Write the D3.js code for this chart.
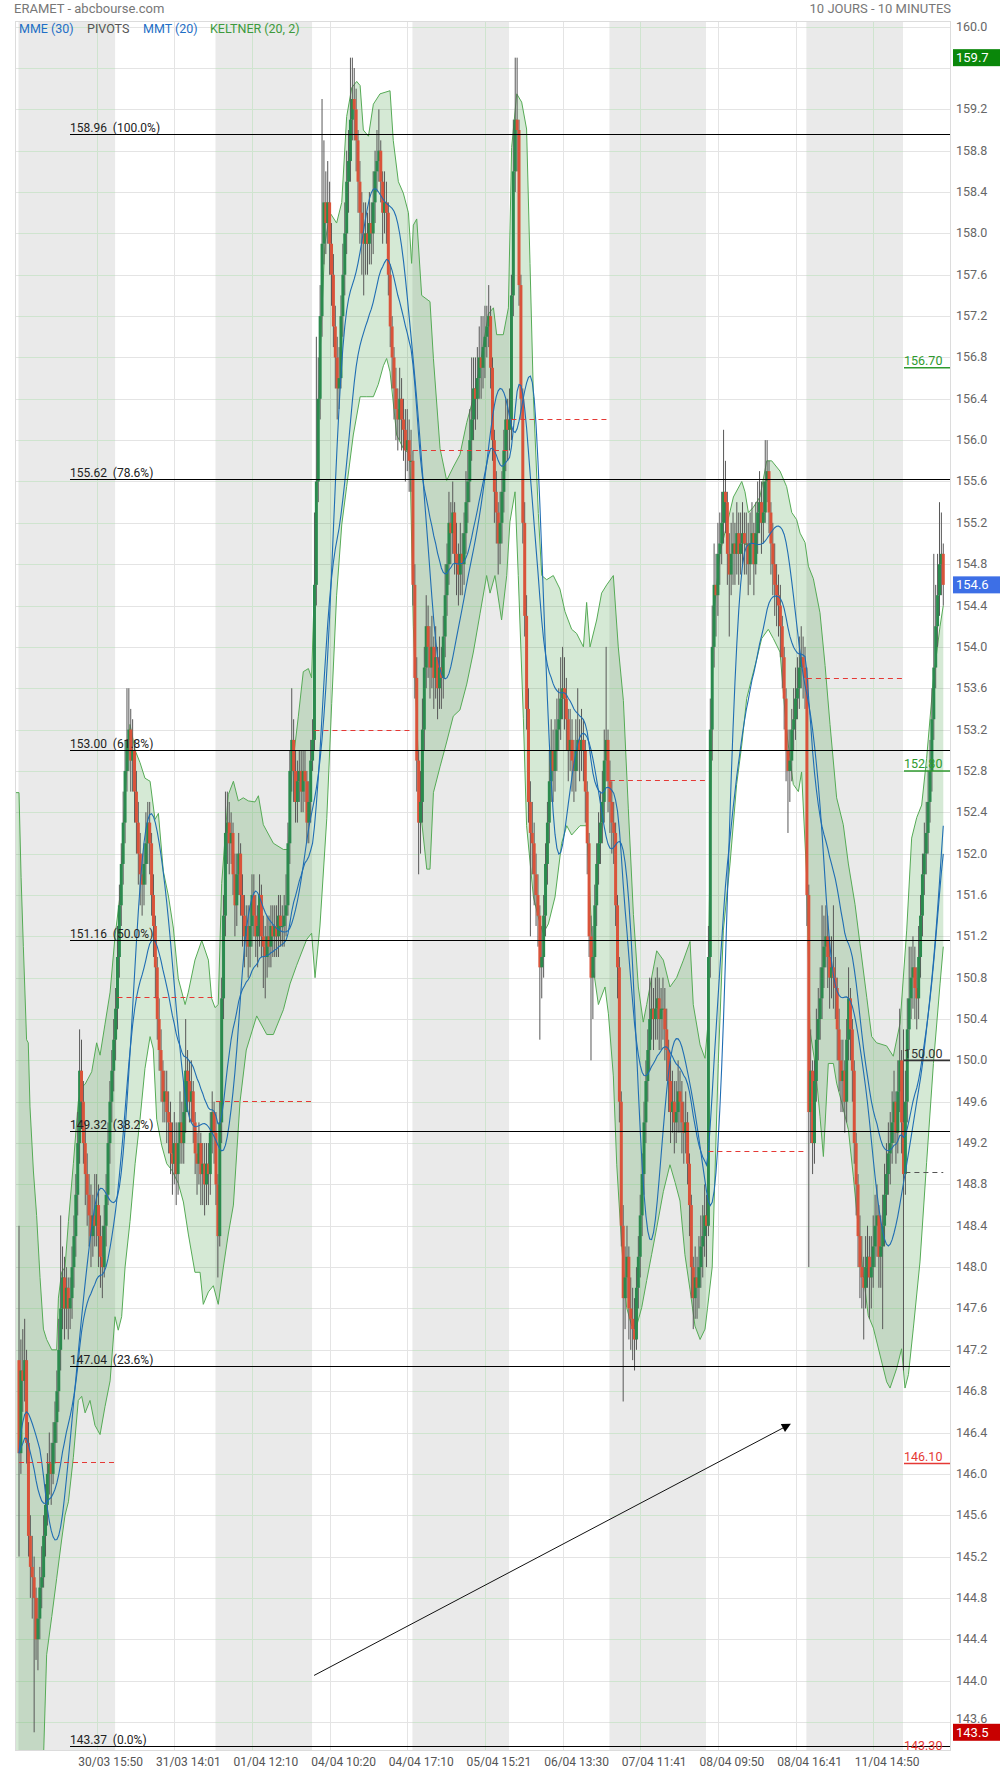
<!DOCTYPE html>
<html><head><meta charset="utf-8">
<script src="https://cdn.jsdelivr.net/npm/d3@7"></script>
<style>
body{margin:0;background:#fff}
svg{display:block}
text{font-family:Roboto,"Liberation Sans",Arial,sans-serif}
</style>
</head><body>
<svg id="c" width="1000" height="1774"></svg>
<script>
// ---------- DATA (10-minute bars, 30/03 09:00 -> 12/04 12:20) ----------
const dayStarts = [0,52,104,156,208,260,312,364,416,468];
const dayNames = ["30/03","31/03","01/04","04/04","05/04","06/04","07/04","08/04","11/04","12/04"];

const opens = [
// 30/03
147.1,146.2,147.0,146.9,147.1,146.3,145.4,145.1,145.0,144.8,144.4,144.6,144.9,145.0,145.4,145.7,146.0,146.1,146.0,146.3,
146.5,146.8,147.2,147.6,147.9,147.6,147.8,147.6,147.7,148.0,148.3,148.7,149.2,149.9,149.6,149.2,148.9,148.7,148.5,148.3,
148.5,148.4,148.6,148.3,148.1,148.0,148.4,148.7,149.2,149.6,149.9,150.2,
// 31/03
150.5,151.0,151.5,151.9,152.3,152.8,153.1,153.2,152.9,153.0,152.6,152.3,152.0,151.8,151.7,151.9,152.1,152.3,152.1,151.6,
151.3,150.9,150.4,150.1,149.9,149.6,149.7,149.5,149.4,149.1,149.0,149.2,148.9,149.2,149.4,149.2,149.5,149.9,149.8,149.6,
149.7,149.4,149.1,149.0,149.2,148.9,149.0,148.8,149.0,148.9,149.3,149.5,
// 01/04
149.3,148.8,148.3,149.4,150.6,151.4,152.2,152.3,152.1,152.2,151.8,151.5,151.8,152.0,151.6,151.4,151.2,151.3,151.1,151.3,
151.6,151.4,151.2,151.3,151.6,151.2,151.1,151.0,151.2,151.1,151.3,151.2,151.3,151.2,151.4,151.3,151.3,151.4,151.5,152.1,
152.8,153.1,152.8,152.5,152.7,152.8,152.6,152.8,152.7,152.3,152.5,152.9,
// 04/04
153.1,154.6,155.6,156.4,157.2,157.9,158.3,158.1,158.3,157.9,157.6,157.1,156.8,156.5,156.6,157.2,157.6,158.0,158.5,158.7,
159.1,159.3,159.2,158.9,158.5,158.2,158.0,157.9,158.0,157.9,158.1,158.0,158.3,158.6,158.7,158.8,158.5,158.2,158.3,158.2,
157.6,157.1,156.8,156.5,156.3,156.2,156.4,156.2,156.1,155.9,156.0,155.8,
// 05/04
155.8,154.6,153.7,152.9,152.3,152.5,153.2,153.8,154.2,154.0,153.8,154.0,153.7,153.9,153.6,153.8,153.7,154.1,154.5,154.8,
155.2,155.1,155.3,154.9,154.8,154.7,154.9,154.8,155.1,155.4,155.6,156.0,156.2,156.5,156.4,156.6,156.8,156.7,156.9,157.0,
157.1,157.2,156.7,156.0,155.5,155.3,155.0,155.2,155.5,155.9,156.2,156.1,
// 06/04
156.2,157.4,158.6,159.1,159.0,157.5,156.4,155.2,154.3,153.4,152.5,152.2,152.1,151.8,151.6,151.4,150.9,151.0,151.4,151.9,
152.3,152.7,153.0,152.8,153.0,153.2,153.3,153.5,153.6,153.5,153.3,153.0,153.1,152.9,152.8,153.0,153.1,153.0,153.1,153.0,
152.6,152.1,151.2,150.8,151.0,151.5,151.9,152.1,152.3,152.5,152.9,153.1,
// 07/04
152.7,152.5,152.3,152.2,151.5,150.9,149.6,148.4,147.7,147.9,148.1,147.6,147.5,147.4,147.3,147.8,148.1,148.5,148.9,149.4,
149.8,150.1,150.4,150.5,150.4,150.5,150.6,150.4,150.5,150.5,150.3,150.1,149.8,149.5,149.6,149.4,149.5,149.7,149.6,149.4,
149.3,149.4,149.0,148.6,148.0,147.7,147.9,147.8,148.0,148.2,148.3,148.5,
// 08/04
148.4,151.0,153.2,154.0,154.6,154.5,154.9,155.0,155.2,155.5,155.4,154.9,154.7,154.9,155.0,154.9,155.1,154.9,155.0,155.1,
155.0,155.0,154.8,155.0,155.1,154.8,155.1,155.3,155.4,155.2,155.3,155.6,155.7,155.3,155.0,154.8,154.6,154.5,154.4,154.2,
153.9,153.5,153.0,152.8,152.9,153.2,153.3,153.5,153.6,153.8,153.9,153.8,
// 11/04
153.7,151.6,149.5,149.9,149.2,149.8,150.2,150.4,150.6,150.9,151.1,151.2,151.0,150.8,150.9,150.8,150.7,150.3,150.0,149.8,
149.9,149.6,150.2,150.6,150.3,149.9,149.2,148.8,148.3,148.0,147.9,147.8,148.0,148.1,147.9,148.0,148.2,148.4,148.5,148.1,
148.2,148.4,148.7,148.9,149.1,149.2,149.4,149.6,149.3,149.7,150.0,149.4,
// 12/04
148.9,149.6,150.3,150.6,150.8,150.9,150.7,150.6,151.0,151.4,151.8,152.0,152.2,152.5,152.8,153.3,153.8,154.2,154.5,154.8,
154.9
];

const highs = [
// 30/03
148.4,147.3,147.4,147.5,147.2,146.5,145.6,145.4,145.2,144.9,144.8,145.1,145.3,145.6,145.9,146.2,146.4,146.3,146.5,146.7,
147.0,147.5,148.5,148.2,148.1,148.0,147.9,147.9,148.2,148.5,148.9,149.5,150.3,150.2,149.8,149.4,149.1,148.9,148.8,148.7,
148.9,148.9,148.8,148.5,148.4,148.6,148.9,149.4,149.8,150.1,150.4,150.7,
// 31/03
151.3,151.7,152.1,152.6,153.1,153.6,153.6,153.4,153.3,153.1,152.8,152.5,152.2,152.0,152.1,152.4,152.5,152.5,152.2,151.8,
151.4,151.0,150.6,150.3,150.0,149.9,149.9,149.7,149.6,149.4,149.5,149.4,149.4,149.7,149.6,149.8,150.4,150.1,150.0,150.0,
149.8,149.5,149.3,149.4,149.3,149.2,149.2,149.2,149.2,149.5,149.7,149.6,
// 01/04
149.5,148.9,149.6,150.8,151.6,152.6,152.6,152.5,152.4,152.3,152.0,152.0,152.2,152.1,151.8,151.6,151.5,151.5,151.5,151.8,
151.8,151.6,151.5,151.8,151.7,151.4,151.3,151.4,151.4,151.5,151.5,151.5,151.5,151.6,151.6,151.5,151.6,151.8,152.3,153.0,
153.6,153.3,153.0,152.9,153.0,153.0,153.0,153.0,152.8,152.7,153.1,153.3,
// 04/04
155.3,157.0,156.8,157.5,159.3,158.9,158.6,158.7,158.5,158.1,157.8,157.3,157.0,156.9,157.4,157.9,158.3,158.8,159.0,159.7,
159.7,159.6,159.4,159.0,158.7,158.4,158.3,158.3,158.2,158.4,158.3,158.6,158.8,159.0,159.2,158.9,158.6,158.6,158.5,158.3,
157.7,157.2,156.9,156.7,156.5,156.7,156.6,156.4,156.3,156.3,156.2,156.1,
// 05/04
155.9,154.8,153.9,153.0,152.8,153.5,154.0,154.5,154.4,154.2,154.3,154.1,154.2,154.0,154.1,154.0,154.3,154.8,155.0,155.5,
155.4,155.6,155.4,155.2,155.0,155.2,155.1,155.3,155.7,155.9,156.3,156.8,156.8,156.8,156.9,157.1,157.2,157.2,157.3,157.3,
157.5,157.3,156.8,156.1,155.7,155.4,155.5,155.7,156.1,156.4,156.4,156.5,
// 06/04
157.6,159.1,159.7,159.7,159.1,157.6,156.5,155.4,154.5,153.6,152.7,152.5,152.3,152.0,151.8,151.5,151.3,151.6,152.1,152.5,
153.0,153.3,153.2,153.3,153.5,153.6,153.9,154.0,153.9,153.7,153.4,153.4,153.3,153.1,153.3,153.6,153.3,153.4,153.3,153.1,
152.7,152.2,151.4,151.3,151.7,152.1,152.4,152.6,152.8,153.2,154.0,153.2,
// 07/04
152.9,152.7,152.5,152.3,151.6,151.0,149.7,148.6,148.2,148.4,148.2,147.9,147.8,147.7,148.0,148.3,148.7,149.1,149.6,150.0,
150.3,150.8,150.8,150.7,150.8,150.9,150.8,150.7,150.8,150.7,150.5,150.2,150.0,149.9,149.8,149.8,150.0,149.9,149.8,149.6,
149.7,149.5,149.1,148.7,148.1,148.2,148.1,148.3,148.5,148.6,148.8,148.7,
// 08/04
151.3,153.5,154.4,155.0,154.9,155.2,155.3,155.5,156.1,155.8,155.5,155.1,155.2,155.3,155.2,155.4,155.3,155.3,155.4,155.3,
155.3,155.2,155.3,155.4,155.2,155.4,155.6,155.7,155.6,155.6,156.0,156.0,155.8,155.4,155.2,155.0,154.8,154.7,154.6,154.3,
154.0,153.6,153.2,153.2,153.4,153.6,153.8,153.9,154.1,154.2,154.1,154.0,
// 11/04
153.8,151.7,150.3,150.0,150.0,150.5,150.7,150.9,151.5,151.4,151.5,151.4,151.2,151.2,151.5,151.0,150.8,150.5,150.2,150.2,
150.0,150.4,150.9,150.7,150.4,150.0,149.3,148.9,148.5,148.3,148.1,148.3,148.4,148.3,148.3,148.5,148.7,148.8,148.6,148.5,
148.7,149.0,149.2,149.4,149.5,149.7,149.9,149.7,150.0,150.5,150.1,150.3,
// 12/04
149.9,150.6,151.1,151.1,151.2,151.1,150.9,151.3,151.6,152.0,152.3,152.5,152.8,153.1,153.6,154.9,154.6,154.9,155.4,155.3,
155.0
];

const lows = [
// 30/03
145.2,146.0,146.6,146.7,146.1,145.2,144.8,144.6,143.5,144.2,144.1,144.4,144.7,144.9,145.2,145.5,145.8,145.7,145.9,146.1,
146.3,146.6,147.0,147.4,147.3,147.4,147.3,147.4,147.5,147.8,148.1,148.5,149.0,149.4,149.0,148.6,148.4,148.2,148.0,148.1,
148.2,148.2,148.0,147.8,147.7,147.9,148.2,148.6,149.0,149.4,149.7,150.0,
// 31/03
150.3,150.8,151.3,151.7,152.1,152.6,152.8,152.6,152.6,152.3,152.0,151.7,151.5,151.4,151.5,151.7,151.9,151.8,151.4,151.0,
150.6,150.2,149.9,149.6,149.4,149.4,149.2,149.1,148.9,148.7,148.8,148.6,148.7,149.0,149.0,149.0,149.3,149.5,149.4,149.4,
149.2,148.9,148.7,148.8,148.6,148.6,148.5,148.6,148.6,148.7,149.1,149.0,
// 01/04
148.6,147.9,148.2,149.2,150.4,151.2,151.9,151.8,151.9,151.6,151.2,151.3,151.6,151.4,151.1,150.9,151.0,150.8,150.9,151.1,
151.2,151.0,150.9,151.1,151.0,150.7,150.6,150.8,150.9,150.9,151.0,151.0,151.0,151.0,151.1,151.1,151.1,151.2,151.4,151.9,
152.6,152.5,152.3,152.3,152.5,152.4,152.4,152.5,152.1,152.1,152.3,152.8,
// 04/04
153.0,154.4,155.4,156.2,157.0,157.7,157.8,157.9,157.6,157.3,156.9,156.5,156.2,156.3,156.5,157.0,157.4,157.8,158.2,158.5,
158.9,158.9,158.6,158.2,157.9,157.6,157.4,157.6,157.6,157.7,157.7,157.8,158.1,158.4,158.5,158.3,157.9,158.0,157.9,157.4,
156.9,156.5,156.2,156.0,155.9,156.0,155.9,155.8,155.6,155.7,155.5,155.5,
// 05/04
154.4,153.5,152.6,151.8,152.0,152.3,153.0,153.6,153.7,153.5,153.6,153.4,153.5,153.3,153.4,153.4,153.5,153.9,154.3,154.6,
154.8,154.9,154.7,154.5,154.4,154.5,154.5,154.6,154.9,155.2,155.4,155.8,156.0,156.1,156.2,156.4,156.4,156.5,156.6,156.8,
156.9,156.5,155.8,155.2,155.0,154.7,154.8,155.0,155.3,155.7,155.8,155.9,
// 06/04
156.0,157.2,158.4,158.6,157.3,156.2,155.0,154.1,153.2,152.3,151.2,151.8,151.5,151.3,151.1,150.2,150.6,150.8,151.2,151.7,
152.1,152.5,152.5,152.6,152.8,153.0,153.1,153.3,153.2,153.0,152.7,152.8,152.6,152.5,152.6,152.8,152.7,152.8,152.7,152.3,
151.8,151.0,150.0,150.4,150.8,151.3,151.7,151.9,152.1,152.3,152.7,152.4,
// 07/04
152.2,152.0,151.9,151.3,150.6,149.4,148.2,146.7,147.4,147.7,147.3,147.2,147.1,147.0,147.2,147.6,147.9,148.3,148.7,149.2,
149.6,149.9,150.2,150.1,150.2,150.2,150.1,150.1,150.2,150.0,149.8,149.5,149.2,149.3,149.1,149.2,149.3,149.3,149.1,149.0,
149.1,148.8,148.3,147.7,147.4,147.5,147.5,147.6,147.8,147.9,148.1,148.0,
// 08/04
148.3,150.8,152.9,153.8,154.1,154.3,154.6,154.8,155.0,155.1,154.6,154.1,154.5,154.6,154.6,154.7,154.6,154.7,154.8,154.7,
154.7,154.5,154.6,154.8,154.5,154.7,154.9,155.1,154.9,155.0,155.2,155.4,155.1,154.7,154.5,154.3,154.2,154.1,153.9,153.6,
153.2,152.7,152.2,152.5,152.7,153.0,153.1,153.3,153.4,153.6,153.5,153.4,
// 11/04
151.3,148.0,149.2,148.9,149.0,149.6,150.0,150.2,150.4,150.7,150.9,150.7,150.5,150.6,150.5,150.4,150.0,149.7,149.5,149.5,
149.3,149.4,150.0,150.0,149.6,149.0,148.5,148.0,147.7,147.6,147.3,147.6,147.8,147.5,147.6,147.8,148.0,148.1,147.8,147.8,
147.4,148.2,148.5,148.7,148.8,149.0,149.2,149.0,149.1,149.5,149.1,147.0,
// 12/04
148.7,149.4,150.1,150.4,150.5,150.4,150.3,150.4,150.8,151.2,151.6,151.8,152.0,152.3,152.6,153.1,153.6,154.0,154.3,154.5,
154.4
];

const closes = [
// 30/03
146.2,147.0,146.9,147.1,146.3,145.4,145.1,145.0,144.8,144.4,144.6,144.9,145.0,145.4,145.7,146.0,146.1,146.0,146.3,146.5,
146.8,147.2,147.6,147.9,147.6,147.8,147.6,147.7,148.0,148.3,148.7,149.2,149.9,149.6,149.2,148.9,148.7,148.5,148.3,148.5,
148.4,148.6,148.3,148.1,148.0,148.4,148.7,149.2,149.6,149.9,150.2,150.5,
// 31/03
151.0,151.5,151.9,152.3,152.8,153.1,153.2,152.9,153.0,152.6,152.3,152.0,151.8,151.7,151.9,152.1,152.3,152.1,151.6,151.3,
150.9,150.4,150.1,149.9,149.6,149.7,149.5,149.4,149.1,149.0,149.2,148.9,149.2,149.4,149.2,149.5,149.9,149.8,149.6,149.7,
149.4,149.1,149.0,149.2,148.9,149.0,148.8,149.0,148.9,149.3,149.5,149.3,
// 01/04
148.8,148.3,149.4,150.6,151.4,152.2,152.3,152.1,152.2,151.8,151.5,151.8,152.0,151.6,151.4,151.2,151.3,151.1,151.3,151.6,
151.4,151.2,151.3,151.6,151.2,151.1,151.0,151.2,151.1,151.3,151.2,151.3,151.2,151.4,151.3,151.3,151.4,151.5,152.1,152.8,
153.1,152.8,152.5,152.7,152.8,152.6,152.8,152.7,152.3,152.5,152.9,153.1,
// 04/04
154.6,155.6,156.4,157.2,157.9,158.3,158.1,158.3,157.9,157.6,157.1,156.8,156.5,156.6,157.2,157.6,158.0,158.5,158.7,159.1,
159.3,159.2,158.9,158.5,158.2,158.0,157.9,158.0,157.9,158.1,158.0,158.3,158.6,158.7,158.8,158.5,158.2,158.3,158.2,157.6,
157.1,156.8,156.5,156.3,156.2,156.4,156.2,156.1,155.9,156.0,155.8,155.8,
// 05/04
154.6,153.7,152.9,152.3,152.5,153.2,153.8,154.2,154.0,153.8,154.0,153.7,153.9,153.6,153.8,153.7,154.1,154.5,154.8,155.2,
155.1,155.3,154.9,154.8,154.7,154.9,154.8,155.1,155.4,155.6,156.0,156.2,156.5,156.4,156.6,156.8,156.7,156.9,157.0,157.1,
157.2,156.7,156.0,155.5,155.3,155.0,155.2,155.5,155.9,156.2,156.1,156.2,
// 06/04
157.4,158.6,159.1,159.0,157.5,156.4,155.2,154.3,153.4,152.5,152.2,152.1,151.8,151.6,151.4,150.9,151.0,151.4,151.9,152.3,
152.7,153.0,152.8,153.0,153.2,153.3,153.5,153.6,153.5,153.3,153.0,153.1,152.9,152.8,153.0,153.1,153.0,153.1,153.0,152.6,
152.1,151.2,150.8,151.0,151.5,151.9,152.1,152.3,152.5,152.9,153.1,152.7,
// 07/04
152.5,152.3,152.2,151.5,150.9,149.6,148.4,147.7,147.9,148.1,147.6,147.5,147.4,147.3,147.8,148.1,148.5,148.9,149.4,149.8,
150.1,150.4,150.5,150.4,150.5,150.6,150.4,150.5,150.5,150.3,150.1,149.8,149.5,149.6,149.4,149.5,149.7,149.6,149.4,149.3,
149.4,149.0,148.6,148.0,147.7,147.9,147.8,148.0,148.2,148.3,148.5,148.4,
// 08/04
151.0,153.2,154.0,154.6,154.5,154.9,155.0,155.2,155.5,155.4,154.9,154.7,154.9,155.0,154.9,155.1,154.9,155.0,155.1,155.0,
155.0,154.8,155.0,155.1,154.8,155.1,155.3,155.4,155.2,155.3,155.6,155.7,155.3,155.0,154.8,154.6,154.5,154.4,154.2,153.9,
153.5,153.0,152.8,152.9,153.2,153.3,153.5,153.6,153.8,153.9,153.8,153.7,
// 11/04
151.6,149.5,149.9,149.2,149.8,150.2,150.4,150.6,150.9,151.1,151.2,151.0,150.8,150.9,150.8,150.7,150.3,150.0,149.8,149.9,
149.6,150.2,150.6,150.3,149.9,149.2,148.8,148.3,148.0,147.9,147.8,148.0,148.1,147.9,148.0,148.2,148.4,148.5,148.1,148.2,
148.4,148.7,148.9,149.1,149.2,149.4,149.6,149.3,149.7,150.0,149.4,148.9,
// 12/04
149.6,150.3,150.6,150.8,150.9,150.7,150.6,151.0,151.4,151.8,152.0,152.2,152.5,152.8,153.3,153.8,154.2,154.5,154.8,154.9,
154.6
];

// Keltner (20, 2) channel edges: bar index and price
const keltUpIdx = [-2.1,0,1.1,2.3,4.0,4.9,5.8,7.6,9.3,11.1,12.9,14.6,17.3,19.9,20.8,22.5,24.3,26.1,28.7,31.3,33.1,34.9,38.4,41.0,42.8,
 45.4,48.1,50.7,53.3,56.0,58.6,61.3,63.9,66.5,69.2,71.8,73.6,76.2,78.9,81.5,84.1,87.7,89.4,92.9,96.5,100.0,101.7,103.5,105.2,107.0,
 110.5,113.2,115.8,118.4,121.1,124.6,126.4,129.0,134.3,139.6,142.2,144.0,147.5,150.1,152.8,154.5,156.3,158.9,161.5,164.2,167.7,170.4,
 173.0,175.7,178.3,180.1,181.8,184.5,187.1,190.6,195.9,197.6,200.3,202.9,205.6,207.3,208.2,210.0,212.6,217.0,218.8,222.3,225.8,229.3,
 232.8,236.4,239.9,243.4,247.8,250.5,252.2,255.7,258.4,260.1,262.8,265.4,268.0,269.8,271.6,274.2,276.0,278.6,282.1,285.6,288.3,291.8,
 294.4,298.0,299.7,301.5,305.0,307.6,310.3,313.8,316.4,319.1,321.7,324.4,327.0,329.6,331.4,334.0,336.7,340.2,343.7,347.2,350.8,354.3,
 356.0,359.6,362.2,363.5,364.8,366.6,370.1,373.6,377.2,381.6,383.3,385.1,387.7,391.2,394.8,397.4,401.8,405.3,408.0,410.6,412.4,415.0,
 416.8,419.4,422.9,425.6,428.2,431.7,435.2,437.9,441.4,444.0,447.6,450.2,452.8,458.1,461.6,465.2,468.7,471.3,474.0,476.6,479.2,482.8,
 486.3,488.0];
const keltUpVal = [152.59,152.59,151.77,151.1,150.2,150.17,149.55,148.93,148.5,147.9,147.4,147.3,147.2,147.2,147.7,147.95,148.0,148.44,
 149.0,149.6,149.74,149.77,149.89,150.17,150.05,150.35,150.66,151.2,151.59,152.57,153.25,153.0,152.88,152.73,152.7,152.33,152.39,151.83,
 151.59,151.28,150.79,150.54,150.66,150.97,151.16,150.97,150.6,150.51,150.54,151.71,152.57,152.7,152.51,152.54,152.51,152.5,152.56,
 152.28,152.1,152.04,152.04,152.78,153.33,153.76,153.79,153.7,154.8,156.8,157.9,158.2,158.1,158.3,159.13,159.41,159.47,159.43,159.0,
 158.94,159.25,159.35,159.38,158.9,158.5,158.39,158.2,157.71,158.08,158.14,157.4,157.34,156.79,155.92,155.61,155.74,155.86,156.17,
 156.41,156.72,157.22,157.28,157.02,157.02,157.28,158.83,159.35,159.27,159.01,157.71,156.42,155.29,154.69,154.65,154.69,154.56,154.34,
 154.17,154.13,154.0,154.43,154.0,154.26,154.52,154.6,154.69,154.0,153.48,152.44,151.41,150.71,150.37,150.54,150.8,151.06,150.97,
 150.71,150.8,150.97,151.15,150.54,150.15,150.02,150.3,151.9,154.27,154.91,155.17,155.45,155.6,155.5,155.3,155.35,155.45,155.8,155.8,
 155.7,155.55,155.3,155.23,155.1,155.01,154.78,154.66,154.33,153.82,153.25,152.54,152.28,151.9,151.51,151.13,150.61,150.23,150.17,
 150.14,150.04,150.36,151.26,152.15,152.35,152.47,152.92,153.69,154.2,154.4];
const keltLoIdx = [-2.1,10.0,14.6,17.3,19.9,22.5,24.3,26.1,28.7,31.3,33.1,34.9,37.5,40.1,42.8,45.4,48.1,50.7,52.4,54.2,56.0,58.6,61.3,
 63.9,66.5,69.2,70.9,72.7,75.3,78.0,80.6,84.1,86.8,89.4,92.9,95.6,97.3,100.0,102.6,105.2,107.9,110.5,113.2,116.7,120.0,125.5,130.8,
 134.3,139.6,143.1,146.6,151.9,154.5,156.3,158.9,162.5,165.1,167.7,170.4,173.0,176.5,180.1,183.6,187.1,189.7,192.4,194.1,195.9,199.4,
 202.9,206.4,208.2,211.7,215.3,217.0,218.8,222.3,225.8,229.3,232.8,236.4,239.9,243.4,246.9,248.7,251.3,254.8,257.5,259.2,261.9,263.6,
 266.3,268.0,271.6,275.1,276.8,279.5,283.0,286.5,289.2,291.8,296.2,299.7,301.5,303.2,305.9,309.4,311.2,313.8,315.6,318.2,320.8,323.5,
 326.1,328.8,331.4,334.0,336.7,340.2,343.7,346.4,349.0,351.6,354.3,356.9,359.6,362.2,363.5,366.0,369.2,371.9,375.4,378.9,381.6,384.2,
 386.8,389.5,392.1,395.6,398.3,401.8,405.3,408.8,411.5,413.2,415.9,417.6,420.3,422.9,424.7,427.3,430.0,431.7,434.4,437.9,440.5,443.2,
 445.8,448.4,451.1,454.6,458.1,459.9,463.4,466.0,467.8,469.6,472.2,475.7,479.2,482.8,486.3,488.0];
const keltLoVal = [140.5,141.5,144.25,144.62,144.99,145.36,145.6,145.73,146.16,146.71,146.75,146.59,146.71,146.47,146.38,146.65,146.9,
 147.52,147.39,147.52,148.0,148.44,149.0,149.43,149.92,150.23,150.11,149.43,149.18,149.0,148.94,148.81,148.63,148.32,147.95,147.95,
 147.64,147.76,147.82,147.64,148.0,148.32,148.6,149.6,150.1,150.43,150.25,150.25,150.49,150.74,150.92,151.17,151.23,150.8,151.3,152.34,
 153.45,154.5,155.18,155.55,156.05,156.42,156.42,156.42,156.54,156.72,156.79,156.66,156.05,155.92,155.86,154.2,152.47,151.85,151.85,
 152.59,152.84,153.08,153.33,153.39,153.64,153.95,154.32,154.69,154.52,154.69,154.26,154.69,155.21,155.5,154.69,153.31,152.27,151.58,
 151.32,151.23,151.32,151.58,152.1,152.27,152.18,152.27,152.27,151.58,150.89,150.54,150.71,150.45,149.85,148.99,148.21,147.61,147.43,
 147.43,147.61,147.87,148.12,148.38,148.73,148.99,148.82,148.64,148.12,147.78,147.43,147.3,147.4,147.6,148.0,149.97,151.26,151.9,
 152.67,153.05,153.5,153.69,153.88,154.08,154.17,154.08,153.95,153.18,152.67,152.6,152.79,151.77,150.29,149.97,149.46,149.07,149.97,
 149.97,149.78,149.59,149.33,148.88,148.37,147.92,147.53,147.41,147.15,146.89,146.83,147.02,147.21,146.83,146.96,147.41,148.05,149.01,
 149.97,150.74,151.1];

const xTickIdx = [41,82,123,164,205,246,287,328,369,410,451];
const xTickLabels = ["30/03 15:50","31/03 14:01","01/04 12:10","04/04 10:20","04/04 17:10","05/04 15:21",
                     "06/04 13:30","07/04 11:41","08/04 09:50","08/04 16:41","11/04 14:50"];
const yTickValues = [143.6,144.0,144.4,144.8,145.2,145.6,146.0,146.4,146.8,147.2,147.6,148.0,148.4,148.8,149.2,149.6,
  150.0,150.4,150.8,151.2,151.6,152.0,152.4,152.8,153.2,153.6,154.0,154.4,154.8,155.2,155.6,156.0,156.4,156.8,157.2,
  157.6,158.0,158.4,158.8,159.2,159.6,160.0];

const fibLevels = [158.96,155.62,153.00,151.16,149.32,147.04,143.37];
const fibPct = ["100.0%","78.6%","61.8%","50.0%","38.2%","23.6%","0.0%"];
const pivotValues = [146.11,150.61,149.61,153.20,155.90,156.20,152.71,149.12,153.70,148.92];
const sideLevels = [156.70,152.80,150.00,146.10,143.30];
const sideLevelKinds = ["up","up","mid","down","down"];
const badgeValues = [159.7,154.6,143.5];
const badgeKinds = ["high","last","low"];
const arrowFrom = [155.8,144.05];
const arrowTo = [407.1,146.48];

// ---------- INDICATORS (moving averages from closes) ----------
const N = closes.length;
function sma(arr,n){return arr.map((_,i)=>d3.mean(arr.slice(Math.max(0,i-n+1),i+1)));}
const ema30 = [];
closes.forEach((c,i)=>{ema30.push(i===0?c:ema30[i-1]+(2/31)*(c-ema30[i-1]));});
const tma20 = sma(sma(closes,10),11);

// ---------- LAYOUT ----------
const L=15,R=951,T=22,B=1751;
const x = d3.scaleLinear().domain([-2.112,492.08]).range([L,R]);
const y = d3.scaleLinear().domain([143.319,160.045]).range([B,T]);
const svg = d3.select("#c");
const defs = svg.append("defs");
defs.append("clipPath").attr("id","pc").append("rect").attr("x",L).attr("y",T).attr("width",R-L).attr("height",B-T);
defs.append("clipPath").attr("id","ac").append("rect").attr("x",R).attr("y",T).attr("width",1000-R).attr("height",1774-T);
defs.append("marker").attr("id","ah").attr("viewBox","0 0 10 10").attr("refX",9).attr("refY",5)
  .attr("markerWidth",11).attr("markerHeight",9).attr("markerUnits","userSpaceOnUse").attr("orient","auto")
  .append("path").attr("d","M0,0L10,5L0,10z").attr("fill","#000");

svg.append("rect").attr("width",1000).attr("height",1774).attr("fill","#fff");
const g = svg.append("g").attr("clip-path","url(#pc)");

const grayDays = dayStarts.filter((s,k)=>k%2===0);
const inGray = j => grayDays.some(s=>j>=s && j<=s+51);
g.selectAll("rect.band").data(grayDays).join("rect")
  .attr("x",s=>x(s)-0.5).attr("width",s=>x(s+51)-x(s)).attr("y",T).attr("height",B-T).attr("fill","#eaeaea");

// grid
const gy = v=>Math.round(y(v))+0.5;
g.selectAll("line.hg").data(yTickValues).join("line")
  .attr("x1",L).attr("x2",R).attr("y1",gy).attr("y2",gy).attr("stroke","#e4e4e4");
g.selectAll("line.hgg").data(d3.cross(grayDays,yTickValues)).join("line")
  .attr("x1",d=>x(d[0])-0.5).attr("x2",d=>x(d[0]+51)-0.5).attr("y1",d=>gy(d[1])).attr("y2",d=>gy(d[1]))
  .attr("stroke","#cfe4cf");
g.selectAll("line.vg").data(xTickIdx).join("line")
  .attr("x1",j=>Math.round(x(j))+0.5).attr("x2",j=>Math.round(x(j))+0.5).attr("y1",T).attr("y2",B)
  .attr("stroke",j=>inGray(j)?"#cfe4cf":"#e4e4e4");

// Keltner channel
const upPts = keltUpIdx.map((j,k)=>[x(j),y(keltUpVal[k])]);
const loPts = keltLoIdx.map((j,k)=>[x(j),y(keltLoVal[k])]);
g.append("path").attr("d",d3.line()(upPts.concat(loPts.slice().reverse()))+"Z")
  .attr("fill","#3f9a3f").attr("fill-opacity",0.22);
[upPts,loPts].forEach(p=>{
  g.append("path").attr("d",d3.line()(p)).attr("fill","none").attr("stroke","#56ab56").attr("stroke-width",1);
});

// candles
const bars = closes.map((c,i)=>({i,o:opens[i],h:Math.max(highs[i],opens[i],c),l:Math.min(lows[i],opens[i],c),c}));
g.selectAll("line.wick").data(bars).join("line")
  .attr("x1",d=>x(d.i)).attr("x2",d=>x(d.i)).attr("y1",d=>y(d.h)).attr("y2",d=>y(d.l))
  .attr("stroke","#585858").attr("stroke-width",1);
g.selectAll("rect.body").data(bars).join("rect")
  .attr("x",d=>x(d.i)-1.5).attr("width",3)
  .attr("y",d=>y(Math.max(d.o,d.c)))
  .attr("height",d=>Math.max(1.2,Math.abs(y(d.o)-y(d.c))))
  .attr("fill",d=>d.c>=d.o?"#2b8a4e":"#d9533a");

// moving averages
[ema30,tma20].forEach(s=>{
  g.append("path").datum(s).attr("d",d3.line().x((d,i)=>x(i)).y(d=>y(d)))
   .attr("fill","none").attr("stroke","#1f6db3").attr("stroke-width",1.1);
});

// pivots
g.selectAll("line.piv").data(pivotValues).join("line")
  .attr("x1",(v,k)=>x(dayStarts[k])).attr("x2",(v,k)=>x(Math.min(dayStarts[k]+51,N-1)))
  .attr("y1",v=>Math.round(y(v))+0.5).attr("y2",v=>Math.round(y(v))+0.5)
  .attr("stroke",(v,k)=>k===pivotValues.length-1?"#555":"#e53935").attr("stroke-dasharray","5,4").attr("stroke-width",1);

// fibonacci
g.selectAll("line.fib").data(fibLevels).join("line")
  .attr("x1",70).attr("x2",R).attr("y1",v=>Math.round(y(v))+0.5).attr("y2",v=>Math.round(y(v))+0.5)
  .attr("stroke","#000").attr("stroke-width",1);
svg.selectAll("text.fib").data(fibLevels).join("text")
  .attr("x",70).attr("y",v=>Math.round(y(v))-2).attr("font-size",12).attr("fill","#222")
  .style("white-space","pre").text((v,k)=>v.toFixed(2)+"  ("+fibPct[k]+")");

// side levels
const sideColor = {up:"#2e9a2e",mid:"#333",down:"#e53935"};
g.selectAll("line.side").data(sideLevels).join("line")
  .attr("x1",904).attr("x2",R).attr("y1",v=>y(v)).attr("y2",v=>y(v))
  .attr("stroke",(v,k)=>sideColor[sideLevelKinds[k]]).attr("stroke-width",1.6);
svg.selectAll("text.side").data(sideLevels).join("text")
  .attr("x",904).attr("y",v=>y(v)-2.5).attr("font-size",12.5)
  .attr("fill",(v,k)=>sideColor[sideLevelKinds[k]]).text(v=>v.toFixed(2));

// arrow
svg.append("line").attr("x1",x(arrowFrom[0])).attr("y1",y(arrowFrom[1]))
  .attr("x2",x(arrowTo[0])).attr("y2",y(arrowTo[1]))
  .attr("stroke","#111").attr("stroke-width",1).attr("marker-end","url(#ah)");

// frame
svg.append("rect").attr("x",L+0.5).attr("y",T-0.5).attr("width",R-L-1).attr("height",B-T)
  .attr("fill","none").attr("stroke","#dcdcdc");

// y axis labels (labels hidden under a badge are skipped, labels just above one are lifted)
const ag = svg.append("g").attr("clip-path","url(#ac)");
const labelY = v=>{
  let yy = y(v)+4;
  for(const b of badgeValues){
    const by = y(b);
    if(Math.abs(yy-4-by) < 12 && v < b) return null;
    if(Math.abs(yy-4-by) < 12 && v > b) yy = Math.min(yy, by-9.5);
  }
  return yy;
};
ag.selectAll("text.yl").data(yTickValues.filter(v=>labelY(v)!==null)).join("text")
  .attr("x",956).attr("y",labelY).attr("font-size",12.5).attr("fill","#666").text(v=>v.toFixed(1));
const badgeColor = {high:"#0a870a",last:"#3d6fe6",low:"#c80000"};
badgeValues.forEach((v,k)=>{
  ag.append("rect").attr("x",953).attr("y",y(v)-8.5).attr("width",47).attr("height",17).attr("fill",badgeColor[badgeKinds[k]]);
  ag.append("text").attr("x",956).attr("y",y(v)+4.5).attr("font-size",13).attr("fill","#fff").text(v.toFixed(1));
});

// x axis labels
svg.selectAll("text.xl").data(xTickIdx).join("text")
  .attr("x",j=>x(j)+14).attr("y",1766).attr("text-anchor","middle").attr("font-size",12).attr("fill","#555")
  .text((j,k)=>xTickLabels[k]);

// title & legend
svg.append("text").attr("x",14).attr("y",13).attr("font-size",13).attr("fill","#777").text("ERAMET - abcbourse.com");
svg.append("text").attr("x",R).attr("y",13).attr("text-anchor","end").attr("font-size",13).attr("fill","#777").text("10 JOURS - 10 MINUTES");
const legend = [["MME (30)","#1f6fc6",19],["PIVOTS","#555",87],["MMT (20)","#1f6fc6",143],["KELTNER (20, 2)","#3d9a3d",210]];
legend.forEach(d=>svg.append("text").attr("x",d[2]).attr("y",33).attr("font-size",12.5).attr("fill",d[1]).text(d[0]));
</script>
</body></html>
